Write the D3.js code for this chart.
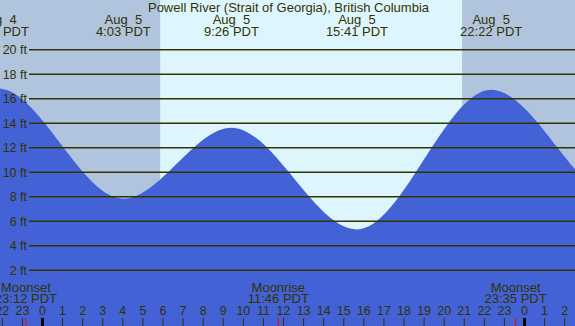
<!DOCTYPE html>
<html>
<head>
<meta charset="utf-8">
<script src="https://cdn.jsdelivr.net/npm/d3@7"></script>
<style>
  body { margin: 0; background: #fff; }
  svg text { font-family: "Liberation Sans", Arial, sans-serif; font-size: 12.5px; fill: #333300; }
</style>
</head>
<body>
<div id="tide-widget"></div>
<script>
// tide extremes, hours relative to Aug 5 00:00 come from day + clock
const tideDays = ["Aug  4", "Aug  4", "Aug  5", "Aug  5", "Aug  5", "Aug  5", "Aug  6", "Aug  6"];
const tideClock = ["15:20", "21:48", "4:03", "9:26", "15:41", "22:22", "4:40", "10:30"];
const tideHeights = [5.6, 16.8, 7.8, 13.6, 5.3, 16.7, 7.9, 13.4];

const sunClock = ["5:53", "20:55"];   // sunrise, sunset

const moonNames = ["Moonset", "Moonrise", "Moonset"];
const moonDays = ["Aug  4", "Aug  5", "Aug  5"];
const moonClock = ["23:12", "11:46", "23:35"];

const heightTicks = [2, 4, 6, 8, 10, 12, 14, 16, 18, 20];
const hourTicks = d3.range(-2, 27);
const title = "Powell River (Strait of Georgia), British Columbia";

const width = 575, height = 326;

function toHours(day, clock) {
  const d = +day.trim().split(/\s+/)[1] - 5;
  const [hh, mm] = clock.split(":").map(Number);
  return d * 24 + hh + mm / 60;
}

const tides = tideClock.map((c, i) => ({ t: toHours(tideDays[i], c), h: tideHeights[i], day: tideDays[i], clock: c }));
const moons = moonClock.map((c, i) => ({ t: toHours(moonDays[i], c), name: moonNames[i], clock: c }));
const sunrise = toHours("Aug  5", sunClock[0]);
const sunset = toHours("Aug  5", sunClock[1]);

const x = d3.scaleLinear().domain([0, 24]).range([42, 524]);
const y = d3.scaleLinear().domain([0, 20]).range([294.3, 49.3]);

const svg = d3.select("#tide-widget").append("svg")
  .attr("width", width)
  .attr("height", height);

// night / day background
svg.append("rect").attr("width", width).attr("height", height).attr("fill", "#b0c4de");
svg.append("rect")
  .attr("x", x(sunrise)).attr("y", 0)
  .attr("width", x(sunset) - x(sunrise)).attr("height", height)
  .attr("fill", "#ddf6fd");

// tide curve
const area = d3.area()
  .x(d => x(d.t))
  .y0(height)
  .y1(d => y(d.h))
  .curve(d3.curveMonotoneX);

svg.append("path")
  .datum(tides)
  .attr("d", area)
  .attr("fill", "#4262d6");

// height grid
const yAxis = d3.axisLeft(y)
  .tickValues(heightTicks)
  .tickSize(width - 29)
  .tickPadding(2)
  .tickFormat(d => d + " ft");

svg.append("g")
  .attr("transform", `translate(${width},0)`)
  .call(yAxis)
  .call(g => g.select(".domain").remove())
  .call(g => g.selectAll("line").attr("stroke", "#333300").attr("stroke-width", 1.4))
  .call(g => g.selectAll("text").attr("dy", "0.35em").style("font-size", "12.5px").style("font-family", null));

// tide labels
const tl = svg.append("g").attr("text-anchor", "middle").style("font-size", "13px");
tides.forEach(d => {
  tl.append("text").attr("x", x(d.t)).attr("y", 24).attr("xml:space", "preserve").style("font-size", "13px").text(d.day);
  tl.append("text").attr("x", x(d.t)).attr("y", 36).style("font-size", "13px").text(d.clock + " PDT");
});

svg.append("text")
  .attr("x", width / 2 + 1).attr("y", 12)
  .attr("text-anchor", "middle")
  .style("font-size", "13px")
  .text(title);

// hour axis
const xAxis = d3.axisTop(x)
  .tickValues(hourTicks)
  .tickSize(8)
  .tickPadding(3)
  .tickFormat(d => ((d % 24) + 24) % 24);

svg.append("g")
  .attr("transform", `translate(0,${height})`)
  .call(xAxis)
  .call(g => g.select(".domain").remove())
  .call(g => g.selectAll("line").attr("stroke", "#333300"))
  .call(g => g.selectAll(".tick").filter(d => d % 24 === 0).select("line")
    .attr("stroke", "#000").attr("stroke-width", 3))
  .call(g => g.selectAll("text").style("font-size", "12.5px").style("font-family", null));

// moon events
const ml = svg.append("g").attr("text-anchor", "middle");
moons.forEach(d => {
  ml.append("text").attr("x", x(d.t)).attr("y", 292).style("font-size", "13px").text(d.name);
  ml.append("text").attr("x", x(d.t)).attr("y", 303).style("font-size", "13px").text(d.clock + " PDT");
  ml.append("line")
    .attr("x1", x(d.t)).attr("x2", x(d.t))
    .attr("y1", height - 8).attr("y2", height)
    .attr("stroke", "red").attr("stroke-width", 1);
});
</script>
</body>
</html>
